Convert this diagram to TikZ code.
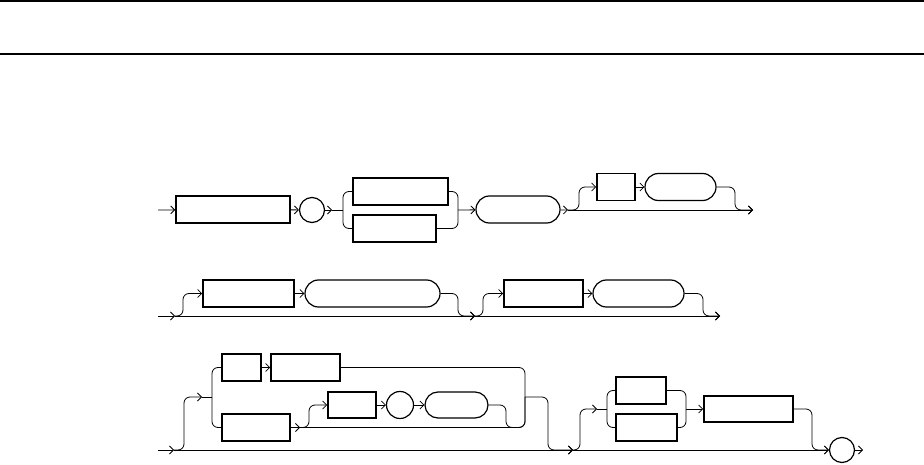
\documentclass[tikz,border=0pt]{standalone}
\usetikzlibrary{arrows.meta,shapes.misc}

\begin{document}
\begin{tikzpicture}[x=1pt, y=-1pt, >={Straight Barb[length=4pt,width=8pt]},
    kw/.style={draw, line width=1.6pt, inner sep=0pt, minimum height=27pt},
    tok/.style={draw, rounded rectangle, line width=1.2pt, inner sep=0pt, minimum height=27pt},
    sym/.style={draw, circle, line width=1.2pt, inner sep=0pt, minimum size=25pt},
    rail/.style={line width=0.8pt, rounded corners=6pt}]
    \useasboundingbox (0,0) rectangle (924,465);
    \draw[line width=1.2pt] (0,1) -- (924,1);
    \draw[line width=1.2pt] (0,54) -- (924,54);

    % first line
    \coordinate (s1) at (158,210);
    \node[kw, minimum width=114pt] (b1) at (233,209.5) {};
    \node[sym] (c1) at (312,210) {};
    \coordinate (a1) at (332,210);
    \coordinate (f1) at (343,210);
    \node[kw, minimum width=95pt] (b2) at (400.5,191.5) {};
    \node[kw, minimum width=83pt] (b3) at (394.5,228.5) {};
    \coordinate (j1) at (458,210);
    \node[tok, minimum width=84pt] (t1) at (518,209.5) {};
    \coordinate (a2) at (568,210);
    \coordinate (u1) at (579,187);
    \node[kw, minimum width=38pt] (b4) at (616,187) {};
    \node[tok, minimum width=71pt] (t2) at (680.5,187) {};
    \coordinate (v1) at (735,210);
    \coordinate (e1) at (753,210);

    \draw[rail,->] (s1) -- (b1);
    \draw[rail,->] (b1) -- (c1);
    \draw[rail,->] (c1) -- (a1);
    \draw[rail] (a1) -- (f1);
    \draw[rail] (b2.west) -| (f1) |- (b3.west);
    \draw[rail] (b2.east) -| (j1) |- (b3.east);
    \draw[rail,->] (j1) -- (t1);
    \draw[rail,->] (t1) -- (a2);
    \draw[rail,->] (a2) -- (e1);
    \draw[rail,->] (a2) -| (u1) -- (b4);
    \draw[rail,->] (b4) -- (t2);
    \draw[rail,->] (t2) -| (v1) -- (e1);

    % second line
    \coordinate (s2) at (158,316);
    \coordinate (a3) at (175,316);
    \coordinate (u2) at (183,293.5);
    \node[kw, minimum width=91pt] (b5) at (248.5,293.5) {};
    \node[tok, minimum width=135pt] (t3) at (372.5,293.5) {};
    \coordinate (v2) at (458,316);
    \coordinate (a4) at (475,316);
    \coordinate (u3) at (483,293.5);
    \node[kw, minimum width=79pt] (b6) at (543.5,293.5) {};
    \node[tok, minimum width=91pt] (t4) at (638.5,293.5) {};
    \coordinate (v3) at (703,316);
    \coordinate (e2) at (720,316);

    \draw[rail,->] (s2) -- (a3);
    \draw[rail,->] (a3) -- (a4);
    \draw[rail,->] (a4) -- (e2);
    \draw[rail,->] (a3) -| (u2) -- (b5);
    \draw[rail,->] (b5) -- (t3);
    \draw[rail,->] (t3) -| (v2) -- (a4);
    \draw[rail,->] (a4) -| (u3) -- (b6);
    \draw[rail,->] (b6) -- (t4);
    \draw[rail,->] (t4) -| (v3) -- (e2);

    % third line
    \coordinate (s3) at (158,450);
    \coordinate (a5) at (174,450);
    \coordinate (u4) at (184,397);
    \coordinate (a6) at (202,397);
    \coordinate (f2) at (212,397);
    \node[kw, minimum width=39pt] (b7) at (241.5,367.5) {};
    \node[kw, minimum width=69pt] (b8) at (305.5,367.5) {};
    \node[kw, minimum width=68pt] (b9) at (256,427.5) {};
    \coordinate (a7) at (300,427.5);
    \coordinate (u5) at (309,405);
    \node[kw, minimum width=48pt, minimum height=26pt] (b10) at (352,405) {};
    \node[sym, minimum size=27pt] (c2) at (400,405) {};
    \node[tok, minimum width=63pt, minimum height=26pt] (t5) at (456.5,405) {};
    \coordinate (v4) at (506,427.5);
    \coordinate (j2) at (525,397);
    \coordinate (v5) at (548,450);
    \coordinate (a8) at (573,450);
    \coordinate (u6) at (580,409);
    \coordinate (a10) at (597,409);
    \coordinate (f3) at (607,409);
    \node[kw, minimum width=50pt] (b11) at (641,390.5) {};
    \node[kw, minimum width=61pt] (b12) at (646.5,427.5) {};
    \coordinate (j3) at (686,409);
    \node[kw, minimum width=89pt, minimum height=26pt] (b13) at (748.5,409) {};
    \coordinate (v6) at (812,450);
    \node[sym] (c3) at (842,450) {};
    \coordinate (e3) at (863,450);

    \draw[rail,->] (s3) -- (a5);
    \draw[rail,->] (a5) -- (a8);
    \draw[rail,->] (a5) -| (u4) -- (a6);
    \draw[rail] (a6) -- (f2);
    \draw[rail] (b7.west) -| (f2) |- (b9.west);
    \draw[rail,->] (b7) -- (b8);
    \draw[rail] (b8.east) -| (j2);
    \draw[rail,->] (b9) -- (a7);
    \draw[rail] (a7) -| (j2);
    \draw[rail,->] (a7) -| (u5) -- (b10);
    \draw[rail,->] (b10) -- (c2);
    \draw[rail,->] (c2) -- (t5);
    \draw[rail] (t5) -| (v4) -| (j2);
    \draw[rail,->] (j2) -| (v5) -- (a8);
    \draw[rail,->] (a8) -- (c3);
    \draw[rail,->] (a8) -| (u6) -- (a10);
    \draw[rail] (a10) -- (f3);
    \draw[rail] (b11.west) -| (f3) |- (b12.west);
    \draw[rail] (b11.east) -| (j3) |- (b12.east);
    \draw[rail,->] (j3) -- (b13);
    \draw[rail,->] (b13) -| (v6) -- (c3);
    \draw[rail,->] (c3) -- (e3);
\end{tikzpicture}
\end{document}
